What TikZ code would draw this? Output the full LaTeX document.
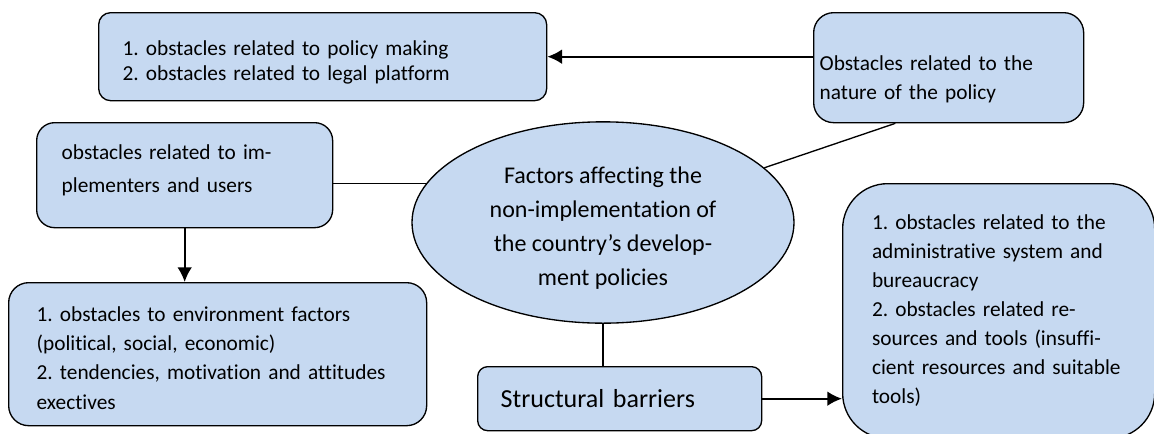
\documentclass[tikz,border=0pt]{standalone}
\usepackage{fontspec}
\setmainfont{Carlito}[Ligatures=NoCommon]
\usetikzlibrary{shapes.geometric, arrows.meta, backgrounds}
\definecolor{boxblue}{RGB}{198,217,241}
\frenchspacing

\begin{document}
\begin{tikzpicture}[x=0.75pt,y=-0.75pt,
  box/.style={draw, line width=1pt, fill=boxblue, anchor=north west, align=left},
  link/.style={line width=1pt},
  arr/.style={line width=1.5pt, -{Latex[length=11pt,width=11pt]}}]

\useasboundingbox (0,0) rectangle (1154,433);
\clip (0,0) rectangle (1154,433);

%Boxes:
\node[box, rounded corners=9pt, minimum width=336pt, minimum height=66pt,
  inner xsep=18pt, text width=300pt, font=\fontsize{16}{18.75}\selectfont]
  (making) at (98,12) {\rule{0pt}{19.5pt}1. obstacles related to policy making\\2. obstacles related to legal platform};
\node[box, rounded corners=15pt, minimum width=202.5pt, minimum height=82.5pt,
  inner xsep=4.5pt, text width=193.5pt, font=\fontsize{16}{21.75}\selectfont]
  (nature) at (813,12) {\rule{0pt}{28.5pt}Obstacles related to the\\nature of the policy};
\node[box, rounded corners=13.5pt, minimum width=222pt, minimum height=78.75pt,
  inner xsep=18.75pt, text width=184.5pt, font=\fontsize{16}{24.75}\selectfont]
  (users) at (36,122) {obstacles related to im-\\plementers and users\rule[-10pt]{0pt}{10pt}};
\node[box, rounded corners=15pt, minimum width=313.5pt, minimum height=107.25pt,
  inner xsep=21pt, text width=271.5pt, font=\fontsize{16}{22}\selectfont]
  (envir) at (8,282) {\rule{0pt}{16.5pt}1. obstacles to environment factors\\(political, social, economic)\\2. tendencies, motivation and attitudes\\exectives};
\node[box, rounded corners=7.5pt, minimum width=213pt, minimum height=48pt,
  inner xsep=17.25pt, text width=178.5pt, font=\fontsize{19.5}{23}\selectfont]
  (struct) at (477,366) {Structural barriers};
\node[box, rounded corners=33.75pt, minimum width=234pt, minimum height=191pt,
  inner xsep=22pt, text width=190pt, font=\fontsize{16}{21.75}\selectfont]
  (admin) at (842,183) {1. obstacles related to the\\administrative system and\\bureaucracy\\2. obstacles related re-\\sources and tools (insuffi-\\cient resources and suitable\\tools)};

%Centre:
\node[draw, ellipse, line width=1pt, fill=boxblue, minimum width=286.5pt, minimum height=151pt,
  inner sep=0pt, align=center, font=\fontsize{18}{25.5}\selectfont]
  (factors) at (603,222.5) {\rule{0pt}{21pt}Factors affecting the\\non-implementation of\\the country’s develop-\\ment policies};

%Links:
\begin{scope}[on background layer]
\draw[arr] (making.east -| nature.west) -- (making.east);
\draw[link] ([xshift=-40pt]nature.south) -- (factors);
\coordinate (c1) at ([yshift=-6pt]users.east);
\draw[link] (c1) -- (c1 -| factors);
\draw[arr] (users.south) -- (users.south |- envir.north);
\draw[link] (factors.south) -- (factors.south |- struct.north);
\draw[arr] (struct.east) -- (struct.east -| admin.west);
\end{scope}

\end{tikzpicture}
\end{document}
